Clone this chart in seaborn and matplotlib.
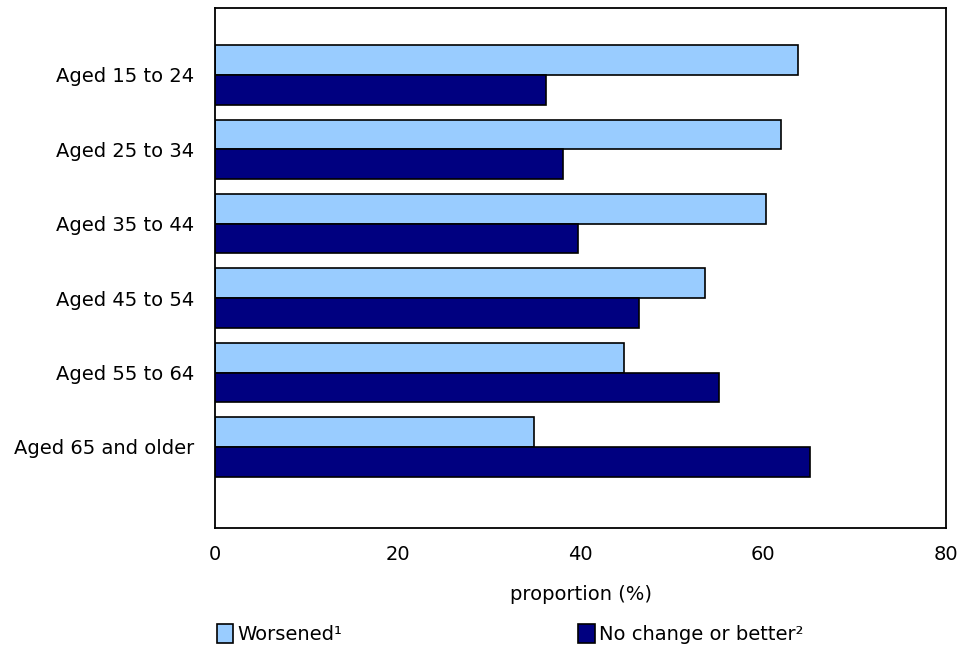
import pandas as pd
import matplotlib.pyplot as plt
import seaborn as sns
from matplotlib.patches import Patch

# Chart data
age_groups = ['Aged 15 to 24', 'Aged 25 to 34', 'Aged 35 to 44',
              'Aged 45 to 54', 'Aged 55 to 64', 'Aged 65 and older']
worsened = [63.8, 61.9, 60.3, 53.6, 44.8, 34.9]
no_change = [36.2, 38.1, 39.7, 46.4, 55.2, 65.1]
series_names = ['Worsened\u00b9', 'No change or better\u00b2']
colors = ['#99CCFF', '#000080']
x_ticks = [0, 20, 40, 60, 80]

FS = 14


def build_frame():
    """Long-format table for seaborn."""
    rows = []
    for i, grp in enumerate(age_groups):
        rows.append({'age': grp, 'status': series_names[0], 'value': worsened[i]})
        rows.append({'age': grp, 'status': series_names[1], 'value': no_change[i]})
    return pd.DataFrame(rows)


def main():
    sns.set_theme(style='white')
    plt.rcParams['font.family'] = ['DejaVu Sans']

    df = build_frame()

    fig = plt.figure(figsize=(9.59, 6.52), dpi=100)
    ax = fig.add_axes([215 / 959, 1 - 528 / 652, 731 / 959, 520 / 652])

    sns.barplot(data=df, x='value', y='age', hue='status', order=age_groups,
                hue_order=series_names, palette=colors, orient='h',
                edgecolor='black', linewidth=1.2, width=0.8, ax=ax,
                legend=False, saturation=1)

    ax.set_xlim(0, 80)
    ax.set_ylim(6.09, -0.90)
    ax.set_xticks(x_ticks)
    ax.set_xticklabels([str(t) for t in x_ticks], fontsize=FS)
    ax.tick_params(axis='x', direction='in', length=7, width=1.2,
                   pad=12, colors='black')
    ax.tick_params(axis='y', length=0, pad=15, labelsize=FS, colors='black')
    ax.set_xlabel('proportion (%)', fontsize=FS, labelpad=15, color='black')
    ax.set_ylabel('')

    for side in ['left', 'right', 'top', 'bottom']:
        ax.spines[side].set_visible(True)
        ax.spines[side].set_color('black')
        ax.spines[side].set_linewidth(1.3)

    handles = [Patch(facecolor=c, edgecolor='black', linewidth=1.2) for c in colors]
    fig.legend(handles, series_names, loc='center left',
               bbox_to_anchor=(209 / 959, 1 - 634 / 652), ncol=2, frameon=False,
               fontsize=FS, labelcolor='black', handlelength=0.85,
               handleheight=1.15, handletextpad=0.2, columnspacing=12.15,
               borderaxespad=0)

    fig.savefig('out.png', dpi=100)
    plt.close(fig)


if __name__ == "__main__":
    main()
